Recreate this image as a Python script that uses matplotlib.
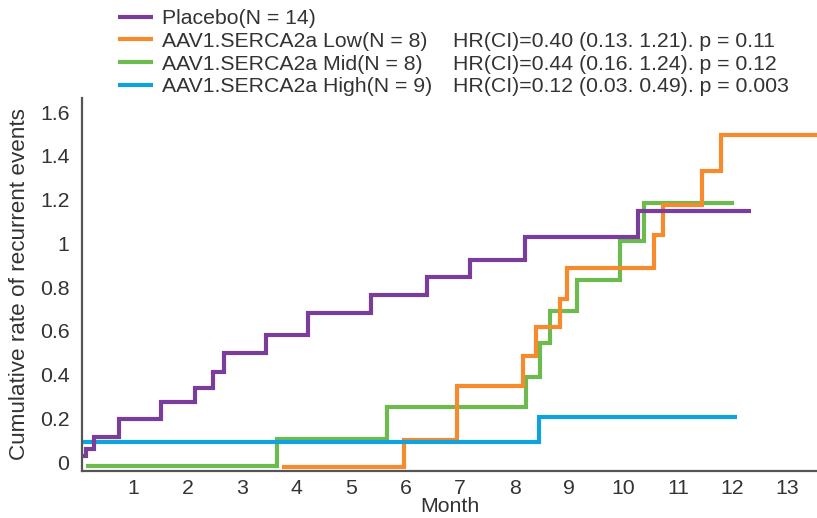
import matplotlib
matplotlib.use("Agg")
import matplotlib.pyplot as plt

plt.rcParams['font.family'] = ['Liberation Sans', 'DejaVu Sans']

# ---- data ----
month_ticks = [1, 2, 3, 4, 5, 6, 7, 8, 9, 10, 11, 12, 13]
rate_ticks = [0, 0.2, 0.4, 0.6, 0.8, 1, 1.2, 1.4, 1.6]
rate_tick_labels = ["0", "0.2", "0.4", "0.6", "0.8", "1", "1.2", "1.4", "1.6"]

placebo_t = [0.07, 0.125, 0.28, 0.74, 1.51, 2.13, 2.47, 2.67, 3.43, 4.20, 5.36, 6.39, 7.18, 8.19, 10.26, 12.34]
placebo_y = [0.027, 0.058, 0.113, 0.195, 0.276, 0.337, 0.413, 0.500, 0.580, 0.680, 0.763, 0.847, 0.923, 1.030, 1.149, 1.149]

low_t = [3.73, 5.96, 6.94, 8.16, 8.40, 8.84, 8.97, 10.56, 10.72, 11.43, 11.78, 13.56]
low_y = [-0.022, 0.100, 0.348, 0.485, 0.619, 0.744, 0.886, 1.036, 1.174, 1.331, 1.497, 1.497]

mid_t = [0.14, 3.64, 5.65, 8.20, 8.47, 8.64, 9.15, 9.94, 10.37, 12.02]
mid_y = [-0.017, 0.105, 0.250, 0.390, 0.543, 0.690, 0.832, 1.010, 1.182, 1.182]

high_t = [0.08, 8.44, 12.09]
high_y = [0.090, 0.207, 0.207]

labels = ["Placebo(N = 14)", "AAV1.SERCA2a Low(N = 8)",
          "AAV1.SERCA2a Mid(N = 8)", "AAV1.SERCA2a High(N = 9)"]
hr_texts = ["", "HR(CI)=0.40 (0.13. 1.21). p = 0.11",
            "HR(CI)=0.44 (0.16. 1.24). p = 0.12",
            "HR(CI)=0.12 (0.03. 0.49). p = 0.003"]

colors = ["#7a3d9c", "#f68a2c", "#6dbb4f", "#10a2dd"]
text_color = "#333333"
FS = 15.3

W, H = 817, 518
fig = plt.figure(figsize=(W / 100, H / 100), dpi=100)
ax = fig.add_axes([82 / W, 47 / H, (W - 82) / W, (471 - 98) / H])

series = [(placebo_t, placebo_y, 5), (low_t, low_y, 3), (mid_t, mid_y, 2), (high_t, high_y, 4)]
handles = []
for (t, y, z), c, lab in zip(series, colors, labels):
    ln, = ax.step(t, y, where='post', color=c, lw=3, zorder=z, label=lab,
                  solid_joinstyle='miter', solid_capstyle='butt')
    handles.append(ln)

ax.set_xlim(0.058, 13.55)
ax.set_ylim(-0.041, 1.664)
ax.set_xticks(month_ticks)
ax.set_xticklabels([str(m) for m in month_ticks])
ax.set_yticks(rate_ticks)
ax.set_yticklabels(rate_tick_labels)
ax.tick_params(length=0, labelsize=FS, colors=text_color, pad=9)
ax.tick_params(axis='x', pad=6)
for s in ['top', 'right']:
    ax.spines[s].set_visible(False)
for s in ['left', 'bottom']:
    ax.spines[s].set_color('#555555')
    ax.spines[s].set_linewidth(1.6)

ax.set_xlabel("Month", fontsize=FS, color=text_color, labelpad=-1)
ax.set_ylabel("Cumulative rate of recurrent events", fontsize=16.2, color=text_color, labelpad=7)

leg = ax.legend(handles=handles, labels=labels, loc='upper left',
                bbox_to_anchor=(118 / W, 1 - 9 / H), bbox_transform=fig.transFigure,
                frameon=False, fontsize=FS, handlelength=1.65, handletextpad=0.42,
                labelspacing=0.18, borderpad=0, borderaxespad=0)
for txt in leg.get_texts():
    txt.set_color(text_color)

fig.canvas.draw()
renderer = fig.canvas.get_renderer()
for txt, hr in zip(leg.get_texts(), hr_texts):
    if not hr:
        continue
    bb = txt.get_window_extent(renderer)
    yc = (bb.y0 + bb.y1) / 2 / H
    fig.text(453 / W, yc, hr, fontsize=FS, color=text_color, va='center', ha='left')

fig.savefig("out.png", dpi=100)
